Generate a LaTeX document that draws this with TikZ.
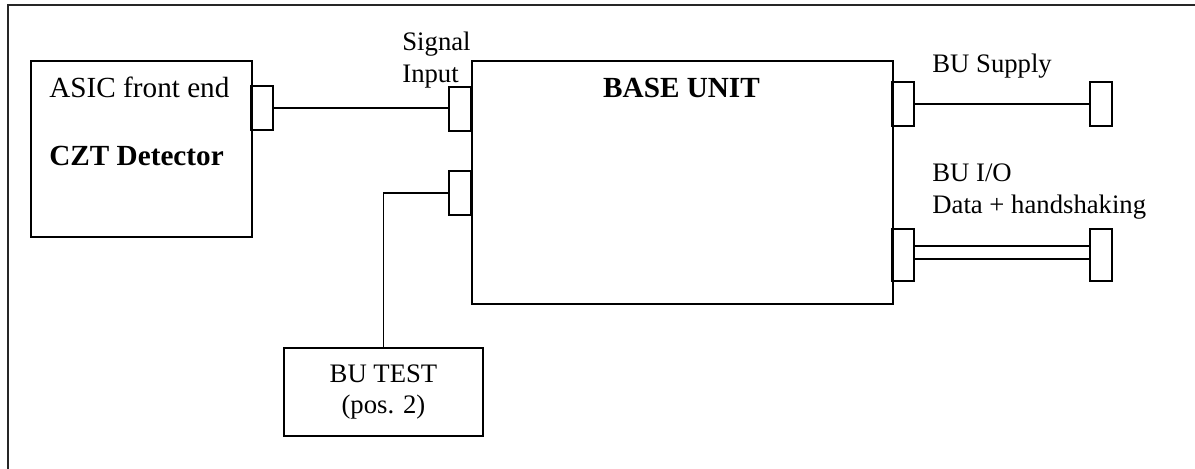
\documentclass[tikz,border=0pt]{standalone}
\usepackage{fontspec}
\setmainfont{Liberation Serif}
\usetikzlibrary{positioning}

\tikzset{
  unitbox/.style={draw, line width=1pt, inner sep=0pt, anchor=north west},
  plug/.style={draw, line width=1pt, inner sep=0pt, minimum width=11pt, minimum height=22pt},
  wire/.style={line width=0.9pt},
  lbl/.style={inner sep=0pt, align=left, font=\fontsize{13.35}{15.7}\selectfont},
  biglbl/.style={inner sep=0pt, font=\fontsize{14.6}{17}\selectfont}
}

\begin{document}
\begin{tikzpicture}[x=0.5pt,y=-0.5pt]
\useasboundingbox (0,0) rectangle (1195,468);
\clip (0,0) rectangle (1195,468);
% outer frame
\draw[line width=1.2pt, black!85] (8,5) rectangle (1215,490);

% main blocks
\node[unitbox, minimum width=110.5pt, minimum height=88pt] (det) at (30,60) {};
\node[unitbox, minimum width=210.5pt, minimum height=121.5pt] (base) at (471,60) {};
\node[unitbox, minimum width=99.5pt, minimum height=44pt, align=center,
      font=\fontsize{13.35}{15.5}\selectfont] (test) at (283,347) {BU TEST\\(pos. 2)};

% block texts
\node[biglbl, anchor=base west] (asic) at (49,97) {ASIC front end};
\node[biglbl, anchor=base west, font=\fontsize{14.6}{17}\selectfont\bfseries] (czt) at (49,165) {CZT Detector};
\node[biglbl, anchor=base, font=\fontsize{14.6}{17}\selectfont\bfseries] (basettl) at (681.5,97) {BASE UNIT};

% connectors
\node[plug] (detplug) at (262,108) {};
\node[plug] (sigplug) at (460,108.5) {};
\node[plug] (testplug) at (460,193) {};
\node[plug] (supplyplug) at (902.5,104) {};
\node[plug] (supplyend) at (1101,104) {};
\node[plug, minimum height=26pt] (ioplug) at (902.5,255) {};
\node[plug, minimum height=26pt] (ioend) at (1101,255) {};

% wiring
\draw[wire] (detplug.east) -- (detplug.east -| sigplug.west);
\draw[wire] (testplug.west) -| (test.north);
\draw[wire] (supplyplug.east) -- (supplyend.west);
\draw[wire] ([yshift=4.5pt]ioplug.east) -- ([yshift=4.5pt]ioend.west);
\draw[wire] ([yshift=-2pt]ioplug.east) -- ([yshift=-2pt]ioend.west);

% port labels
\node[lbl, anchor=base west] (siglbl) at (402,82) {Signal\\Input};
\node[lbl, anchor=base west] (supplylbl) at (932,72) {BU Supply};
\node[lbl, anchor=base west] (iolbl) at (932,213) {BU I/O\\Data + handshaking};
\end{tikzpicture}
\end{document}
